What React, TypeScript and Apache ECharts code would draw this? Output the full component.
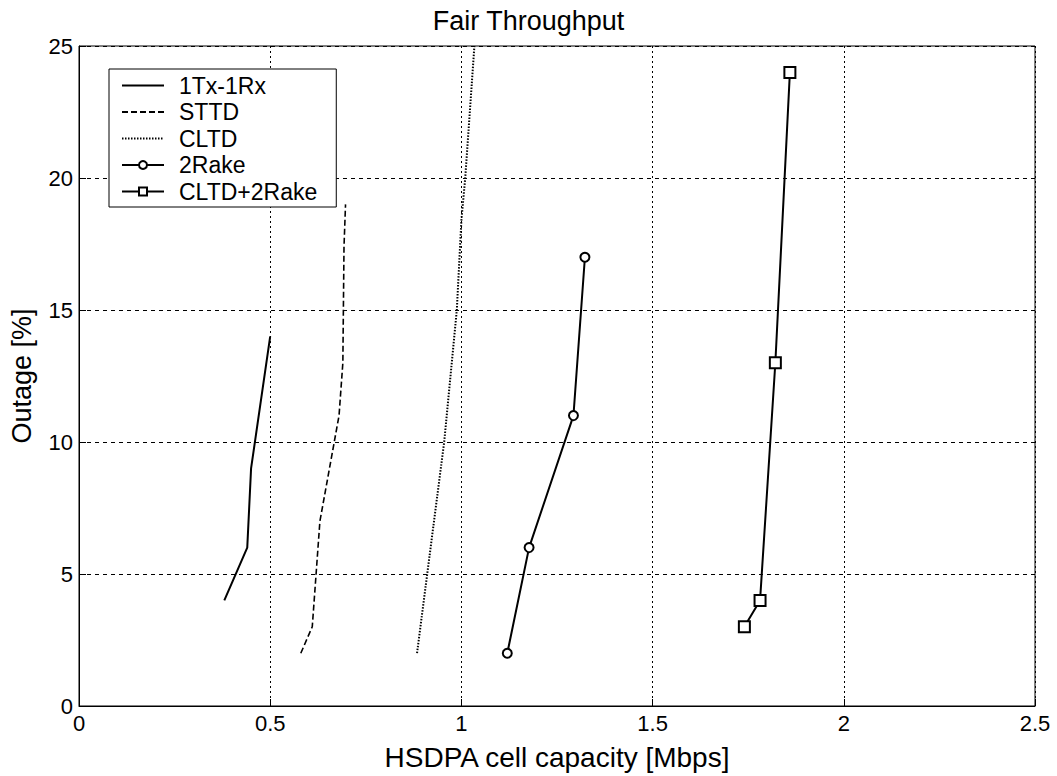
import React, { useEffect, useRef } from "react";
import * as echarts from "echarts";

const seriesNames = ["1Tx-1Rx", "STTD", "CLTD", "2Rake", "CLTD+2Rake"];
const tx1rx1: [number, number][] = [[0.38, 4], [0.44, 6], [0.45, 9], [0.5, 14]];
const sttd: [number, number][] = [[0.58, 2], [0.61, 3], [0.63, 7], [0.68, 11], [0.69, 13], [0.693, 17.4], [0.697, 19]];
const cltd: [number, number][] = [[0.884, 2], [0.955, 10], [0.988, 15], [1.0, 18.4], [1.01, 20], [1.034, 25]];
const rake2: [number, number][] = [[1.12, 2], [1.177, 6], [1.293, 11], [1.323, 17]];
const cltdRake2: [number, number][] = [[1.74, 3], [1.781, 4], [1.821, 13], [1.859, 24]];
const xTicks = [0, 0.5, 1, 1.5, 2, 2.5];
const yTicks = [0, 5, 10, 15, 20, 25];

export default function App() {
  const ref = useRef<HTMLDivElement>(null);
  useEffect(() => {
    const chart = echarts.init(ref.current!, undefined, { renderer: "svg" });
    const font = "Arial, 'Liberation Sans', sans-serif";
    const noMarker = { color: "rgba(0,0,0,0)", borderColor: "rgba(0,0,0,0)", borderWidth: 0 };
    chart.setOption({
      animation: false,
      backgroundColor: "#fff",
      textStyle: { fontFamily: font, color: "#000" },
      title: {
        text: "Fair Throughput",
        left: "center",
        top: 2,
        textStyle: { fontSize: 27, fontWeight: "normal", color: "#000", fontFamily: font },
      },
      grid: { left: 79, right: 22, top: 46, bottom: 70, show: true, borderColor: "#000", borderWidth: 1, backgroundColor: "#fff" },
      legend: {
        orient: "vertical",
        left: 109,
        top: 69,
        padding: [5, 19, 4, 12],
        itemGap: 3.5,
        itemWidth: 42,
        itemHeight: 10,
        borderColor: "#000",
        borderWidth: 1,
        backgroundColor: "#fff",
        data: seriesNames,
        textStyle: { fontSize: 23, lineHeight: 23, color: "#000", fontFamily: font, padding: [0, 0, 0, 10] },
      },
      xAxis: {
        type: "value",
        min: xTicks[0],
        max: xTicks[xTicks.length - 1],
        interval: 0.5,
        name: "HSDPA cell capacity [Mbps]",
        nameLocation: "middle",
        nameGap: 37,
        nameTextStyle: { fontSize: 28, color: "#000", fontFamily: font },
        axisLine: { lineStyle: { color: "#000" } },
        axisTick: { inside: true, length: 7, lineStyle: { color: "#000" } },
        axisLabel: { fontSize: 22, color: "#000", margin: 6, fontFamily: font },
        splitLine: { show: true, lineStyle: { color: "#000", type: [2, 3], width: 1 } },
      },
      yAxis: {
        type: "value",
        min: yTicks[0],
        max: yTicks[yTicks.length - 1],
        interval: 5,
        name: "Outage [%]",
        nameLocation: "middle",
        nameGap: 44,
        nameTextStyle: { fontSize: 27, color: "#000", fontFamily: font },
        axisLine: { show: true, lineStyle: { color: "#000" } },
        axisTick: { show: true, inside: true, length: 7, lineStyle: { color: "#000" } },
        axisLabel: { fontSize: 22, color: "#000", margin: 6, fontFamily: font },
        splitLine: { show: true, lineStyle: { color: "#000", type: [4, 4], width: 1 } },
      },
      series: [
        { name: seriesNames[0], type: "line", data: tx1rx1, symbol: "none", lineStyle: { color: "#000", width: 2, type: "solid" }, itemStyle: noMarker },
        { name: seriesNames[1], type: "line", data: sttd, symbol: "none", lineStyle: { color: "#000", width: 1.6, type: [6, 3] }, itemStyle: noMarker },
        { name: seriesNames[2], type: "line", data: cltd, symbol: "none", lineStyle: { color: "#000", width: 2, type: [1.5, 1.5] }, itemStyle: noMarker },
        {
          name: seriesNames[3], type: "line", data: rake2, symbol: "circle", symbolSize: 9,
          lineStyle: { color: "#000", width: 2 }, itemStyle: { color: "#fff", borderColor: "#000", borderWidth: 2 },
        },
        {
          name: seriesNames[4], type: "line", data: cltdRake2, symbol: "rect", symbolSize: 11,
          lineStyle: { color: "#000", width: 2 }, itemStyle: { color: "#fff", borderColor: "#000", borderWidth: 2 },
        },
      ],
    });
    return () => chart.dispose();
  }, []);
  return <div ref={ref} style={{ position: "fixed", left: 0, top: 0, width: 1057, height: 776 }} />;
}
